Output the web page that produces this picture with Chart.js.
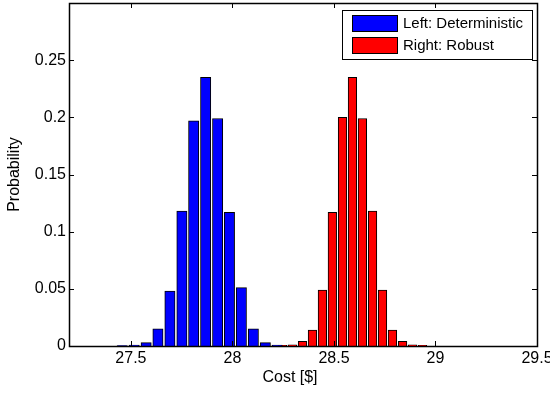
<!DOCTYPE html>
<html>
<head>
<meta charset="utf-8">
<script src="https://cdn.jsdelivr.net/npm/chart.js@4.4.1/dist/chart.umd.min.js"></script>
<style>
  html, body { margin: 0; padding: 0; background: #fff; }
  #wrap { width: 550px; height: 394px; position: relative; }
</style>
</head>
<body>
<div id="wrap"><canvas id="c" width="550" height="394"></canvas></div>
<script>
// ---- data ----
const seriesNames = ['Left: Deterministic', 'Right: Robust'];

// bin centres (Cost [$]) and probabilities, left histogram (deterministic)
const detCost = [27.457, 27.516, 27.575, 27.633, 27.692, 27.751, 27.809, 27.868,
                 27.927, 27.985, 28.044, 28.103, 28.162, 28.220];
const detProb = [0.0004, 0.0008, 0.003, 0.015, 0.048, 0.118, 0.197, 0.235,
                 0.199, 0.117, 0.051, 0.015, 0.003, 0.0008];

// bin centres and probabilities, right histogram (robust)
const robCost = [28.246, 28.295, 28.345, 28.394, 28.443, 28.492, 28.542, 28.591,
                 28.640, 28.690, 28.739, 28.788, 28.838, 28.887, 28.936];
const robProb = [0.0006, 0.001, 0.004, 0.014, 0.049, 0.117, 0.200, 0.235,
                 0.199, 0.118, 0.049, 0.014, 0.004, 0.001, 0.0006];

// axis tick labels
const xTicks = [27.5, 28, 28.5, 29, 29.5];
const yTicks = [0, 0.05, 0.1, 0.15, 0.2, 0.25];
const xRange = [27.195, 29.5];
const yRange = [0, 0.3];
const xTitle = 'Cost [$]';
const yTitle = 'Probability';

// ---- chart ----
const FONT = '"Liberation Sans", Arial, Helvetica, sans-serif';
const toPoints = (xs, ys) => xs.map((x, i) => ({ x: x, y: ys[i] }));

const frameAndTicks = {
  id: 'frameAndTicks',
  afterDatasetsDraw(chart) {
    const ctx = chart.ctx;
    const a = chart.chartArea;
    const xs = chart.scales.x, ys = chart.scales.y;
    const L = 5;
    ctx.save();
    ctx.strokeStyle = '#000';
    ctx.lineWidth = 1;
    ctx.beginPath();
    xs.ticks.forEach(t => {
      const px = Math.round(xs.getPixelForValue(t.value)) + 0.5;
      ctx.moveTo(px, a.bottom); ctx.lineTo(px, a.bottom - L);
      ctx.moveTo(px, a.top); ctx.lineTo(px, a.top + L);
    });
    ys.ticks.forEach(t => {
      const py = Math.round(ys.getPixelForValue(t.value)) + 0.5;
      ctx.moveTo(a.left, py); ctx.lineTo(a.left + L, py);
      ctx.moveTo(a.right, py); ctx.lineTo(a.right - L, py);
    });
    ctx.stroke();
    ctx.lineWidth = 1.5;
    ctx.strokeRect(a.left + 0.5, a.top + 0.5, a.right - a.left, a.bottom - a.top);
    // x axis title
    ctx.fillStyle = '#000';
    ctx.font = '16px ' + FONT;
    ctx.textAlign = 'center';
    ctx.textBaseline = 'middle';
    ctx.fillText(xTitle, (a.left + a.right) / 2 - 13, a.bottom + 32);
    ctx.restore();
  }
};

const boxLegend = {
  id: 'boxLegend',
  afterDraw(chart) {
    const ctx = chart.ctx;
    const a = chart.chartArea;
    const bx = a.right - 195, by = a.top + 7, bw = 190, bh = 49;
    ctx.save();
    ctx.fillStyle = '#fff';
    ctx.fillRect(bx, by, bw, bh);
    ctx.strokeStyle = '#000';
    ctx.lineWidth = 1;
    ctx.strokeRect(bx + 0.5, by + 0.5, bw, bh);
    ctx.font = '15px ' + FONT;
    ctx.textAlign = 'left';
    ctx.textBaseline = 'middle';
    chart.data.datasets.forEach((ds, i) => {
      const sy = by + 5 + i * 22;
      ctx.fillStyle = ds.backgroundColor;
      ctx.fillRect(bx + 10, sy, 45, 16);
      ctx.strokeRect(bx + 10.5, sy + 0.5, 45, 16);
      ctx.fillStyle = '#000';
      ctx.fillText(ds.label, bx + 61, sy + 9);
    });
    ctx.restore();
  }
};

new Chart(document.getElementById('c'), {
  type: 'bar',
  data: {
    datasets: [
      {
        label: seriesNames[0],
        data: toPoints(detCost, detProb),
        backgroundColor: '#0000ff',
        borderColor: '#000',
        borderWidth: 1,
        barThickness: 10.3,
        grouped: false
      },
      {
        label: seriesNames[1],
        data: toPoints(robCost, robProb),
        backgroundColor: '#ff0000',
        borderColor: '#000',
        borderWidth: 1,
        barThickness: 8.6,
        grouped: false
      }
    ]
  },
  options: {
    responsive: false,
    animation: false,
    devicePixelRatio: 1,
    layout: { padding: { top: 3, right: 13, left: 0, bottom: 0 } },
    plugins: {
      legend: { display: false },
      tooltip: { enabled: false }
    },
    scales: {
      x: {
        type: 'linear',
        min: xRange[0],
        max: xRange[1],
        offset: false,
        afterBuildTicks: s => { s.ticks = xTicks.map(v => ({ value: v })); },
        position: 'bottom',
        grid: { display: false, drawTicks: false, offset: false },
        border: { display: false },
        ticks: {
          color: '#000',
          font: { family: FONT, size: 16 },
          padding: 3,
          maxRotation: 0,
          autoSkip: false,
          callback: v => String(v)
        },
        afterFit: s => { s.height = 48; s.paddingLeft = 0; s.paddingRight = 0; }
      },
      y: {
        type: 'linear',
        min: yRange[0],
        max: yRange[1],
        afterBuildTicks: s => { s.ticks = yTicks.map(v => ({ value: v })); },
        grid: { display: false, drawTicks: false },
        border: { display: false },
        ticks: {
          color: '#000',
          font: { family: FONT, size: 16 },
          padding: 3,
          autoSkip: false,
          callback: v => String(v)
        },
        title: {
          display: true,
          text: yTitle,
          color: '#000',
          font: { family: FONT, size: 16 },
          padding: { top: 5, bottom: 0 }
        },
        afterFit: s => { s.width = 69; s.paddingTop = 0; s.paddingBottom = 0; }
      }
    }
  },
  plugins: [frameAndTicks, boxLegend]
});
</script>
</body>
</html>
